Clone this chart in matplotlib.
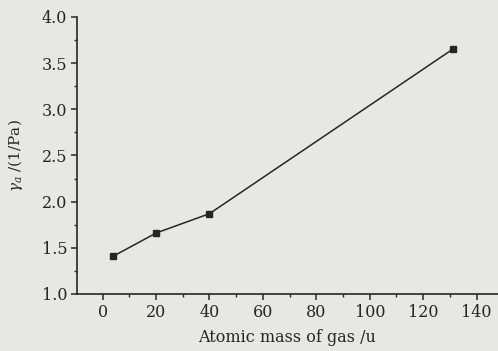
import numpy as np
import matplotlib.pyplot as plt
from matplotlib.ticker import MultipleLocator

# values
mass = [4, 20, 40, 131]
gamma = [1.41, 1.66, 1.87, 3.65]
x_ticks = [0, 20, 40, 60, 80, 100, 120, 140]
y_ticks = [1.0, 1.5, 2.0, 2.5, 3.0, 3.5, 4.0]

plt.rcParams['font.family'] = 'DejaVu Serif'
plt.rcParams['mathtext.fontset'] = 'dejavuserif'

bg = '#e7e7e5'
ink = '#262626'

fig = plt.figure(figsize=(4.98, 3.51), dpi=100, facecolor=bg)
ax = fig.add_axes([0.1546, 0.1624, 0.8454, 0.7892], facecolor=bg)

ax.plot(mass, gamma, '-', color=ink, lw=1.1, marker='s', ms=4,
        mfc=ink, mec=ink)

ax.set_xlim(-9.6, 148)
ax.set_ylim(1.0, 4.0)
ax.set_xticks(x_ticks)
ax.set_yticks(y_ticks)
ax.xaxis.set_minor_locator(MultipleLocator(10))
ax.yaxis.set_minor_locator(MultipleLocator(0.25))
ax.set_yticklabels([f"{v:.1f}" for v in y_ticks])

for s in ['top', 'right']:
    ax.spines[s].set_visible(False)
for s in ['left', 'bottom']:
    ax.spines[s].set_color(ink)
    ax.spines[s].set_linewidth(1.2)

ax.tick_params(which='major', direction='out', length=4, width=1.1,
               colors=ink, labelsize=11.5, pad=3)
ax.tick_params(which='minor', direction='out', length=2.5, width=1.0,
               colors=ink)

ax.set_xlabel("Atomic mass of gas /u", fontsize=11.5, color=ink, labelpad=6)
ax.set_ylabel(r"$\gamma_a$ /(1/Pa)", fontsize=11, color=ink, labelpad=12)

fig.savefig("out.png", dpi=100, facecolor=bg)
